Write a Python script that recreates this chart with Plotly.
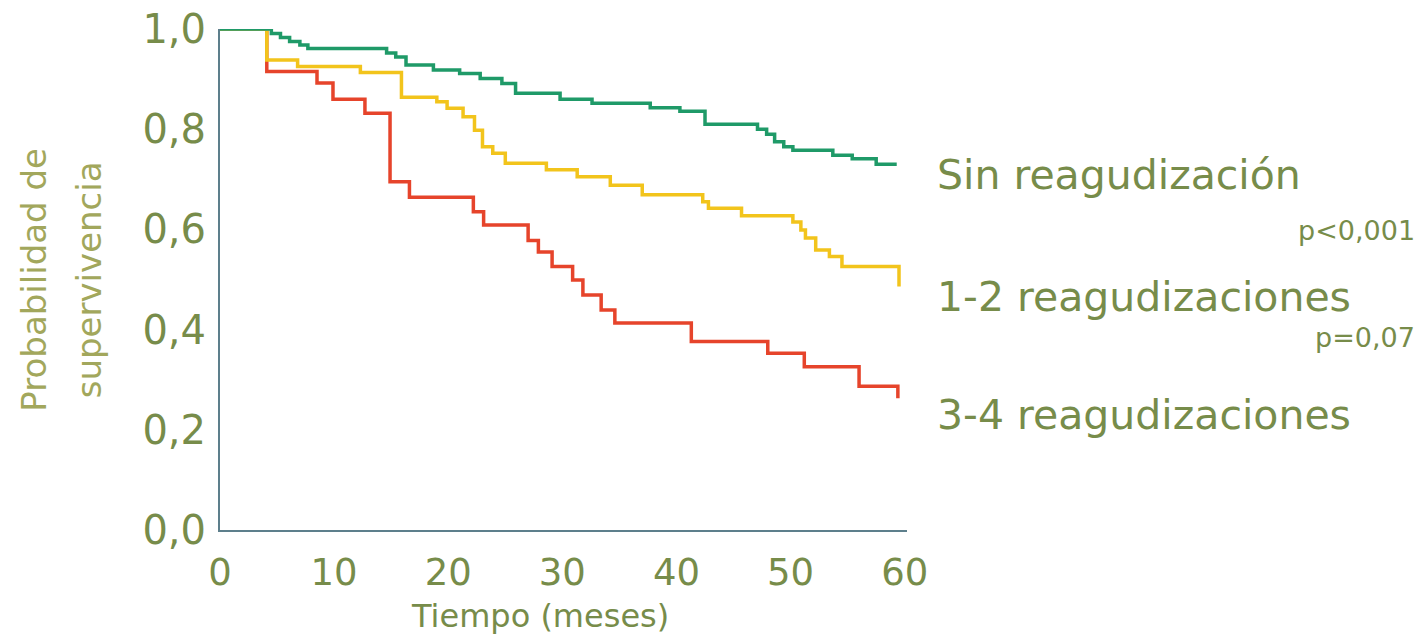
import plotly.graph_objects as go

# ---- data ----
months_none = [0, 4.5, 5.3, 6.1, 7.0, 7.7, 14.6, 15.4, 16.3, 18.7, 21.0, 22.8, 24.7, 25.9,
               29.8, 32.6, 37.7, 40.3, 42.5, 47.1, 47.9, 48.6, 49.4, 50.2, 53.7, 55.4, 57.5, 59.3]
surv_none = [1.0, 0.991, 0.983, 0.975, 0.968, 0.961, 0.952, 0.944, 0.928, 0.918, 0.911, 0.901,
             0.891, 0.872, 0.860, 0.852, 0.843, 0.836, 0.810, 0.800, 0.790, 0.775, 0.765, 0.758,
             0.748, 0.741, 0.730, 0.730]

months_12 = [0, 4.1, 6.8, 12.3, 15.9, 19.0, 19.9, 21.3, 22.3, 23.0, 23.9, 25.0, 28.6, 31.3,
             34.2, 37.0, 42.3, 42.8, 45.7, 50.2, 50.9, 51.3, 52.2, 53.4, 54.5, 59.5]
surv_12 = [1.0, 0.938, 0.925, 0.913, 0.864, 0.855, 0.842, 0.825, 0.798, 0.765, 0.752, 0.732,
           0.719, 0.705, 0.688, 0.669, 0.655, 0.642, 0.627, 0.615, 0.599, 0.583, 0.559, 0.546,
           0.526, 0.486]

months_34 = [0, 4.1, 8.5, 9.9, 12.7, 14.9, 16.6, 22.2, 23.1, 27.0, 27.9, 29.1, 30.9, 31.8,
             33.4, 34.6, 41.3, 48.0, 51.2, 56.0, 59.4]
surv_34 = [1.0, 0.915, 0.892, 0.860, 0.832, 0.695, 0.664, 0.635, 0.609, 0.578, 0.555, 0.526,
           0.499, 0.469, 0.439, 0.413, 0.376, 0.353, 0.326, 0.287, 0.263]

x_ticks = [0, 10, 20, 30, 40, 50, 60]
y_ticks = [0.0, 0.2, 0.4, 0.6, 0.8, 1.0]
y_tick_labels = ["0,0", "0,2", "0,4", "0,6", "0,8", "1,0"]

group_labels = ["Sin reagudización", "1-2 reagudizaciones", "3-4 reagudizaciones"]
label_y = [0.709, 0.465, 0.2295]
p_labels = ["p<0,001", "p=0,07"]
p_y = [0.597, 0.384]

y_title_lines = ["Probabilidad de", "supervivencia"]
y_title_x = [-0.272, -0.191]

# ---- style ----
FONT = "DejaVu Sans"
TEXT = "#778c4a"
TITLE_Y = "#a2a75c"
AXIS = "#5d7f8c"
GREEN = "#1f9a68"
YELLOW = "#f2c41c"
RED = "#e6442b"

fig = go.Figure()
for xs, ys, col in [(months_34, surv_34, RED), (months_12, surv_12, YELLOW),
                    (months_none, surv_none, GREEN)]:
    fig.add_trace(go.Scatter(x=xs, y=ys, mode="lines", line=dict(color=col, width=3.5, shape="hv"),
                             cliponaxis=False, showlegend=False, hoverinfo="skip"))

for txt, yy in zip(group_labels, label_y):
    fig.add_annotation(x=1.0408, y=yy, xref="paper", yref="paper", text=txt, showarrow=False,
                       xanchor="left", yanchor="middle",
                       font=dict(family=FONT, size=41, color=TEXT))
for txt, yy in zip(p_labels, p_y):
    fig.add_annotation(x=1.742, y=yy, xref="paper", yref="paper", text=txt, showarrow=False,
                       xanchor="right", yanchor="middle",
                       font=dict(family=FONT, size=27, color=TEXT))

for txt, xx in zip(y_title_lines, y_title_x):
    fig.add_annotation(x=xx, y=0.5, xref="paper", yref="paper",
                       text=txt, showarrow=False, textangle=-90,
                       xanchor="center", yanchor="middle",
                       font=dict(family=FONT, size=34, color=TITLE_Y))

fig.add_annotation(x=0.466, y=-0.172, xref="paper", yref="paper",
                   text="Tiempo (meses)", showarrow=False,
                   xanchor="center", yanchor="middle",
                   font=dict(family=FONT, size=32, color=TEXT))

fig.update_layout(
    width=1425, height=635,
    margin=dict(l=220, r=518, t=29, b=105, autoexpand=False),
    paper_bgcolor="white", plot_bgcolor="white",
    font=dict(family=FONT, color=TEXT),
    xaxis=dict(range=[0, 60.2], tickvals=x_ticks, ticktext=[str(v) for v in x_ticks],
               showgrid=False, zeroline=False, showline=True, linecolor=AXIS, linewidth=2,
               ticks="", ticklabelstandoff=9, automargin=False,
               tickfont=dict(family=FONT, size=37, color=TEXT)),
    yaxis=dict(range=[0, 1.0], tickvals=y_ticks, ticktext=y_tick_labels,
               showgrid=False, zeroline=False, showline=True, linecolor=AXIS, linewidth=2,
               ticks="", ticklabelstandoff=4, automargin=False, ticklabeloverflow="allow",
               tickfont=dict(family=FONT, size=40, color=TEXT)),
)

fig.write_html("out.html", config={"displayModeBar": False},
               post_script="document.body.style.margin='0px';")
